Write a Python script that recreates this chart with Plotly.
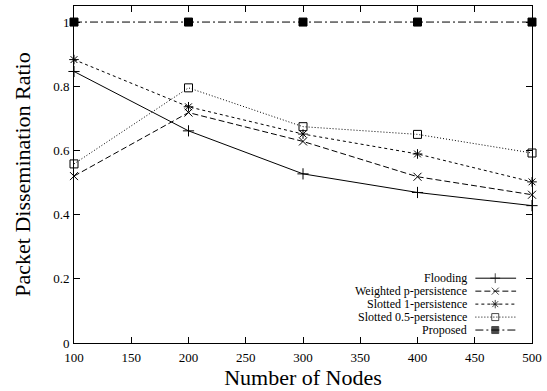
import plotly.graph_objects as go

nodes = [100, 200, 300, 400, 500]
flooding = [0.846, 0.661, 0.527, 0.469, 0.428]
weighted_p = [0.520, 0.718, 0.628, 0.518, 0.462]
slotted_1 = [0.883, 0.736, 0.651, 0.589, 0.502]
slotted_05 = [0.558, 0.795, 0.674, 0.650, 0.592]
proposed = [1.0, 1.0, 1.0, 1.0, 1.0]

names = ["Flooding", "Weighted p-persistence", "Slotted 1-persistence",
         "Slotted 0.5-persistence", "Proposed"]
series = [flooding, weighted_p, slotted_1, slotted_05, proposed]
dashes = ["solid", "6px,3px", "3px,3px", "1px,2px", "8px,3px,2px,3px"]
symbols = ["cross-thin", "x-thin", "asterisk", "square-open", "square"]
sizes = [8, 8, 8, 8, 8]

x_ticks = [100, 150, 200, 250, 300, 350, 400, 450, 500]
y_ticks = [0, 0.2, 0.4, 0.6, 0.8, 1]
y_ticktext = ["0", "0.2", "0.4", "0.6", "0.8", "1"]

FONT = "Liberation Serif"
fig = go.Figure()
for n, s, d, sym, sz in zip(names, series, dashes, symbols, sizes):
    fig.add_trace(go.Scatter(
        x=nodes, y=s, mode="lines+markers", name=n, showlegend=False,
        line=dict(color="black", width=1, dash=d),
        marker=dict(symbol=sym, size=sz, color="black",
                    line=dict(color="black", width=1)),
        cliponaxis=False))

# custom legend (text right-aligned, sample to its right) on an overlay axis
leg_y = [278, 291, 304, 317, 330]
for n, d, sym, sz, ly in zip(names, dashes, symbols, sizes, leg_y):
    fig.add_trace(go.Scatter(
        x=[478, 498, 519], y=[ly, ly, ly], xaxis="x2", yaxis="y2",
        mode="lines+markers", showlegend=False, hoverinfo="skip",
        line=dict(color="black", width=1, dash=d),
        marker=dict(symbol=sym, size=[0, sz - 1, 0], color="black",
                    line=dict(color="black", width=1))))
    fig.add_annotation(x=472, y=ly, xref="x2", yref="y2", text=n,
                       showarrow=False, xanchor="right", yanchor="middle",
                       font=dict(family=FONT, size=12, color="black"))

axis_common = dict(showgrid=False, zeroline=False, showline=True,
                   linecolor="black", linewidth=1, mirror="ticks",
                   ticks="inside", ticklen=6, tickcolor="black",
                   tickfont=dict(family=FONT, size=13, color="black"))

fig.update_layout(
    width=547, height=391,
    margin=dict(l=74, r=12, t=5, b=48),
    paper_bgcolor="white", plot_bgcolor="white",
    xaxis=dict(range=[100, 500], tickvals=x_ticks, ticklabelstandoff=2,
               title=dict(text="Number of Nodes",
                          font=dict(family=FONT, size=22, color="black"),
                          standoff=1),
               **axis_common),
    yaxis=dict(range=[0, 1.05], tickvals=y_ticks, ticktext=y_ticktext,
               ticklabelstandoff=1,
               title=dict(text="Packet Dissemination Ratio",
                          font=dict(family=FONT, size=22, color="black"),
                          standoff=16),
               **axis_common),
    xaxis2=dict(range=[74, 535], overlaying="x", visible=False,
                domain=[0, 1], fixedrange=True),
    yaxis2=dict(range=[343, 5], overlaying="y", visible=False,
                fixedrange=True),
    showlegend=False,
)

fig.write_html("out.html")
